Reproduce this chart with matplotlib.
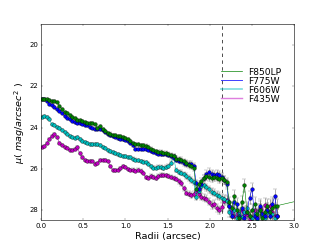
import matplotlib
matplotlib.use("Agg")
import matplotlib.pyplot as plt
from matplotlib.lines import Line2D

plt.style.use("classic")
plt.rcParams["mathtext.fontset"] = "dejavusans"

radii = [0.01, 0.04, 0.07, 0.10, 0.13, 0.16, 0.19, 0.22, 0.25, 0.28,
         0.31, 0.34, 0.37, 0.40, 0.43, 0.46, 0.49, 0.52, 0.55, 0.58,
         0.61, 0.64, 0.67, 0.70, 0.73, 0.76, 0.79, 0.82, 0.85, 0.88,
         0.91, 0.94, 0.97, 1.00, 1.03, 1.06, 1.09, 1.12, 1.15, 1.18,
         1.21, 1.24, 1.27, 1.30, 1.33, 1.36, 1.39, 1.42, 1.45, 1.48,
         1.51, 1.54, 1.57, 1.60, 1.63, 1.66, 1.69, 1.72, 1.75, 1.78,
         1.81, 1.84, 1.87, 1.90, 1.93, 1.96, 1.99, 2.02, 2.05, 2.08,
         2.11, 2.14, 2.17, 2.20, 2.23, 2.26, 2.29, 2.32, 2.35, 2.38,
         2.41, 2.44, 2.47, 2.50, 2.53, 2.56, 2.59, 2.62, 2.65, 2.68,
         2.71, 2.74, 2.77, 2.80]

f850lp = [22.62, 22.62, 22.62, 22.65, 22.72, 22.70, 22.75, 22.95, 23.10, 23.25,
          23.30, 23.40, 23.50, 23.55, 23.62, 23.65, 23.70, 23.75, 23.80, 23.78,
          23.78, 23.85, 24.00, 23.92, 24.05, 24.18, 24.25, 24.30, 24.35, 24.38,
          24.40, 24.42, 24.45, 24.50, 24.55, 24.65, 24.75, 24.80, 24.82, 24.85,
          24.85, 24.87, 24.92, 25.02, 25.10, 25.15, 25.18, 25.20, 25.22, 25.22,
          25.30, 25.35, 25.38, 25.50, 25.52, 25.55, 25.62, 25.70, 25.82, 25.88,
          25.95, 27.00, 26.75, 26.60, 26.45, 26.35, 26.40, 26.45, 26.40, 26.42,
          26.48, 26.45, 26.55, 26.65, 27.60, 27.90, 27.30, 28.00, 28.40, 27.60,
          26.80, 28.10, 28.30, 28.00, 27.70, 28.20, 28.00, 28.40, 28.10, 27.80,
          28.10, 27.90, 27.80, 27.78]

f775w = [22.60, 22.64, 22.72, 22.85, 22.92, 23.02, 23.12, 23.22, 23.32, 23.42,
         23.52, 23.60, 23.67, 23.74, 23.78, 23.80, 23.85, 23.88, 23.90, 23.95,
         24.00, 24.05, 24.07, 24.05, 24.10, 24.22, 24.33, 24.38, 24.42, 24.47,
         24.52, 24.55, 24.57, 24.60, 24.66, 24.74, 24.85, 25.02, 25.04, 25.04,
         25.02, 25.02, 25.07, 25.12, 25.17, 25.22, 25.27, 25.27, 25.30, 25.30,
         25.34, 25.40, 25.47, 25.57, 25.60, 25.64, 25.72, 25.77, 25.75, 25.78,
         25.85, 26.70, 27.00, 26.75, 26.45, 26.25, 26.15, 26.25, 26.30, 26.25,
         26.30, 26.40, 26.55, 26.75, 27.80, 28.30, 27.60, 27.70, 28.30, 27.90,
         28.40, 28.10, 27.40, 27.00, 28.30, 28.40, 27.80, 28.20, 28.30, 28.00,
         28.30, 27.70, 27.30, 28.30]

f606w = [23.50, 23.45, 23.48, 23.60, 23.85, 23.88, 23.95, 24.00, 24.10, 24.20,
         24.30, 24.42, 24.48, 24.50, 24.48, 24.55, 24.65, 24.72, 24.75, 24.80,
         24.82, 24.80, 24.82, 24.85, 24.92, 25.00, 25.08, 25.15, 25.20, 25.25,
         25.30, 25.35, 25.38, 25.40, 25.42, 25.45, 25.50, 25.55, 25.58, 25.62,
         25.65, 25.68, 25.75, 25.88, 25.95, 25.95, 25.90, 25.92, 25.95, 25.90,
         25.85, 25.70, 25.40, 26.05, 26.15, 26.20, 26.25, 26.35, 26.45, 26.55,
         26.65, 27.35, 27.05, 26.85, 26.80, 26.90, 27.00, 27.10, 27.15, 27.25,
         27.30, 27.40, 27.45, 27.55, 28.10, 28.30, 28.00, 28.40, 28.20, 28.35,
         28.10, 27.90, 28.30, 28.40, 28.20, 28.45, 28.00, 28.30, 28.40, 28.10,
         28.30, 28.20, 28.40, 28.30]

f435w = [24.95, 24.88, 24.75, 24.55, 24.40, 24.30, 24.45, 24.75, 24.85, 24.92,
         25.00, 25.10, 25.08, 25.05, 24.95, 25.25, 25.45, 25.55, 25.60, 25.60,
         25.62, 25.75, 25.70, 25.55, 25.55, 25.55, 25.60, 25.85, 26.05, 26.08,
         26.05, 25.95, 25.85, 25.90, 26.00, 26.05, 26.05, 26.10, 26.05, 26.10,
         26.20, 26.40, 26.42, 26.35, 26.40, 26.45, 26.35, 26.30, 26.30, 26.32,
         26.35, 26.40, 26.45, 26.50, 26.60, 26.70, 26.95, 27.15, 27.20, 27.25,
         27.20, 27.05, 27.20, 27.35, 27.40, 27.45, 27.60, 27.75, 27.70, 27.90,
         28.00, 27.85, 27.55, 27.50, 27.80, 28.10, 28.30, 28.20, 28.40, 28.00,
         28.30, 28.20, 28.45, 28.40, 28.00, 28.30, 27.90, 28.20, 27.75, 28.00,
         27.80, 28.10, 28.30, 28.30]

errors = [0.04, 0.04, 0.04, 0.04, 0.04, 0.04, 0.04, 0.04, 0.04, 0.04,
          0.04, 0.04, 0.04, 0.04, 0.05, 0.05, 0.05, 0.05, 0.05, 0.05,
          0.05, 0.05, 0.05, 0.05, 0.05, 0.05, 0.05, 0.06, 0.06, 0.06,
          0.06, 0.06, 0.06, 0.06, 0.06, 0.06, 0.07, 0.07, 0.07, 0.07,
          0.07, 0.07, 0.08, 0.08, 0.08, 0.08, 0.08, 0.09, 0.09, 0.09,
          0.10, 0.10, 0.10, 0.11, 0.11, 0.12, 0.12, 0.13, 0.13, 0.14,
          0.14, 0.15, 0.15, 0.16, 0.16, 0.17, 0.17, 0.18, 0.18, 0.19,
          0.19, 0.20, 0.20, 0.22, 0.25, 0.28, 0.28, 0.30, 0.30, 0.30,
          0.30, 0.30, 0.32, 0.32, 0.32, 0.32, 0.32, 0.33, 0.33, 0.33,
          0.33, 0.34, 0.34, 0.34]

# F850LP line continues beyond the plotted range
f850lp_tail_r = [2.80, 3.20]
f850lp_tail = [27.78, 27.40]

labels = ["F850LP", "F775W", "F606W", "F435W"]
colors = ["g", "b", "c", "m"]
r_cut = 2.15

fig = plt.figure(figsize=(8, 6), dpi=40.875)
ax = fig.add_axes([0.125, 0.1, 0.775, 0.8])

series = [f850lp, f775w, f606w, f435w]
for vals, col in reversed(list(zip(series, colors))):
    ax.errorbar(radii, vals, yerr=errors, fmt="o-", color=col, mfc=col,
                mec="k", mew=0.6, ms=6.5, lw=1.0, ecolor="0.45",
                elinewidth=1.0, capsize=3)
ax.plot(f850lp_tail_r, f850lp_tail, "-", color="g", lw=1.0)

ax.axvline(r_cut, color="k", ls="--", lw=1.2)

ax.set_xlim(0.0, 3.0)
ax.set_ylim(28.5, 19.0)
ax.set_yticks([20, 22, 24, 26, 28])
ax.set_xticks([0.0, 0.5, 1.0, 1.5, 2.0, 2.5, 3.0])
ax.tick_params(labelsize=12)
ax.set_xlabel("Radii (arcsec)", fontsize=17)
ax.set_ylabel(r"$\mu(\ mag/arcsec^2\ )$", fontsize=17)

handles = [Line2D([], [], color="g", lw=1.2),
           Line2D([], [], color="b", lw=1.6, alpha=0.8),
           Line2D([], [], color="c", lw=3.0, alpha=0.5),
           Line2D([], [], color="m", lw=2.5, alpha=0.5)]
ax.legend(handles, labels, loc="upper left", bbox_to_anchor=(0.70, 0.78),
          frameon=False, fontsize=16, labelspacing=0.0, handlelength=2.9,
          handletextpad=0.35, borderpad=0.0, borderaxespad=0.0)

fig.savefig("out.png", dpi=40.875)
